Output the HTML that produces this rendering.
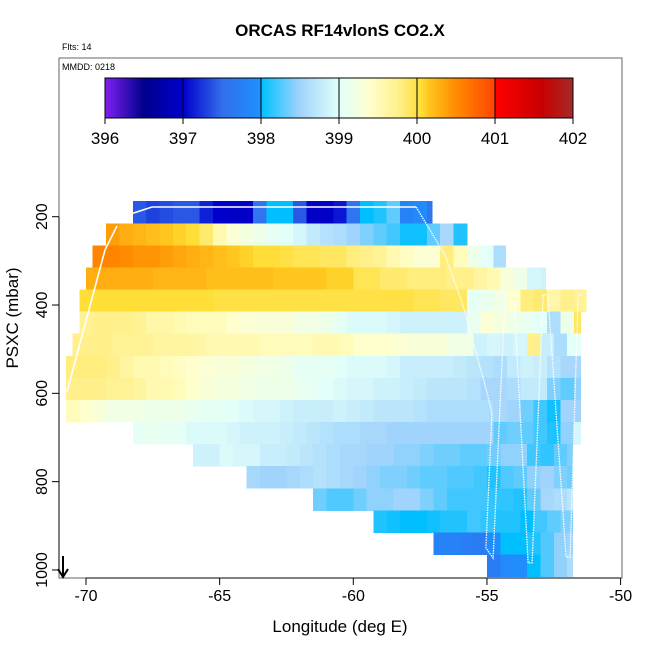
<!DOCTYPE html>
<html><head><meta charset="utf-8"><style>
html,body{margin:0;padding:0;background:#fff;}
svg{display:block;font-family:"Liberation Sans",Arial,sans-serif;}
</style></head><body>
<svg id="chart" width="650" height="650" viewBox="0 0 650 650" xmlns="http://www.w3.org/2000/svg">
<text x="340" y="36" text-anchor="middle" font-size="17" font-weight="bold">ORCAS RF14vlonS CO2.X</text>
<text x="62" y="50" font-size="9">Flts: 14</text>
<g id="cells" shape-rendering="crispEdges"></g>
<g id="track"></g>
<rect x="59" y="58" width="563" height="520" fill="none" stroke="#666" stroke-width="1"/>
<text x="62" y="70" font-size="9">MMDD: 0218</text>
<g id="cbar" shape-rendering="crispEdges"></g>
<g id="axes"></g>
<text x="340" y="632" text-anchor="middle" font-size="17">Longitude (deg E)</text>
<text transform="translate(18,318) rotate(-90)" text-anchor="middle" font-size="17">PSXC (mbar)</text>
<g stroke="#000" stroke-width="2" fill="none">
<line x1="63" y1="556" x2="63" y2="576"/><polyline points="58,569 63,577 68,569"/>
</g>
</svg>
<script>
// ---- data ----
const rowStartLon = [-68.25,-69.25,-69.75,-70,-70.25,-70.25,-70.5,-70.75,-70.75,-70.75,-68.25,-66,-64,-61.5,-59.25,-57,-55];
const rowEndLon = [-57.05,-55.75,-54.3,-52.8,-51.3,-51.5,-51.5,-51.5,-51.5,-51.5,-51.5,-51.8,-51.8,-51.8,-51.8,-51.8,-51.8];
const rowTopP = [165,215,265,315,365,415,465,515,565,615,665,715,765,815,865,915,965];
const row0 = [397.4,397.3,397.35,397.4,397.4,397.15,397.0,396.95,396.95,397.6,398.0,398.0,397.4,396.95,396.95,397.1,397.6,398.0,398.1,398.3,397.8,397.9,397.6];
const row1 = [400.4,400.3,400.25,400.2,400.15,400.1,400.05,399.85,399.55,399.35,399.25,399.15,399.05,399.0,398.9,398.75,398.65,398.6,398.5,398.4,398.3,398.2,398.05,398.05,398.3,398.55,398.1];
const row2 = [400.55,400.55,400.5,400.45,400.45,400.4,400.35,400.3,400.25,400.2,400.15,400.1,400.05,400.05,400.0,399.95,399.95,399.9,399.9,399.8,399.75,399.7,399.55,399.45,399.35,399.35,399.8,399.5,399.15,399.0,398.6];
const row3 = [400.3,400.3,400.3,400.3,400.3,400.25,400.25,400.25,400.25,400.2,400.2,400.2,400.2,400.2,400.15,400.15,400.15,400.15,400.1,400.1,399.95,399.95,399.85,399.85,399.8,399.8,399.8,399.75,399.75,399.65,399.55,399.3,399.15,398.9,398.85];
const row4 = [400.05,400.05,400.05,400.05,400.05,400.05,400.05,400.05,400.05,400.05,400.0,400.0,400.0,400.0,400.0,400.0,400.0,400.0,400.0,400.0,400.0,400.0,400.0,400.0,400.0,399.95,399.95,399.9,399.9,399.05,399.1,399.2,399.4,399.8,399.85,399.6,399.75,399.7];
const row5 = [399.7,399.75,399.75,399.75,399.7,399.6,399.6,399.55,399.5,399.5,399.5,399.4,399.35,399.3,399.3,399.3,399.2,399.2,399.15,399.05,398.95,398.95,398.95,398.9,398.85,398.85,398.85,398.85,398.85,399.1,399.35,399.25,399.15,399.1,399.0,398.6,399.15,399.9];
const row6 = [399.75,399.75,399.75,399.7,399.7,399.7,399.65,399.65,399.65,399.6,399.55,399.55,399.55,399.55,399.5,399.5,399.5,399.5,399.55,399.55,399.5,399.4,399.4,399.4,399.35,399.3,399.3,399.3,399.2,399.2,398.85,398.9,398.85,398.9,399.75,398.8,398.6,399.0];
const row7 = [399.8,399.8,399.8,399.75,399.65,399.55,399.55,399.5,399.45,399.4,399.35,399.3,399.3,399.25,399.2,399.2,399.15,399.05,399.05,399.05,399.0,398.95,398.95,398.95,398.9,398.8,398.8,398.8,398.8,398.75,398.7,398.65,398.6,398.75,398.85,398.8,398.65,398.55,398.55];
const row8 = [399.75,399.75,399.75,399.7,399.7,399.65,399.55,399.55,399.5,399.4,399.3,399.25,399.25,399.2,399.15,399.15,399.15,399.1,399.05,399.0,398.95,398.9,398.9,398.85,398.85,398.8,398.75,398.7,398.7,398.7,398.65,398.55,398.55,398.6,398.75,398.75,398.4,398.3,398.45];
const row9 = [399.5,399.4,399.3,399.2,399.2,399.2,399.15,399.15,399.15,399.1,399.05,399.05,399.0,398.95,398.9,398.9,398.85,398.8,398.8,398.8,398.85,398.8,398.75,398.7,398.7,398.7,398.65,398.6,398.6,398.6,398.6,398.6,398.55,398.5,398.35,398.2,398.05,398.5,398.5];
const row10 = [399.05,399.1,399.05,399.05,398.95,398.95,398.95,398.9,398.85,398.85,398.85,398.8,398.75,398.7,398.65,398.6,398.6,398.55,398.55,398.5,398.5,398.5,398.5,398.5,398.5,398.5,398.5,398.3,398.35,398.3,398.2,398.1,398.45,398.9];
const row11 = [398.85,398.85,398.95,398.9,398.9,398.8,398.8,398.75,398.7,398.65,398.6,398.55,398.55,398.5,398.5,398.45,398.45,398.4,398.35,398.35,398.3,398.3,398.35,398.45,398.45,398.2,398.15,398.3,398.4];
const row12 = [398.55,398.5,398.5,398.55,398.6,398.65,398.6,398.55,398.5,398.45,398.4,398.4,398.35,398.3,398.3,398.25,398.25,398.2,398.1,398.25,398.3,398.45,398.5,398.4,398.35];
const row13 = [398.35,398.25,398.25,398.35,398.45,398.45,398.5,398.5,398.4,398.3,398.2,398.2,398.2,398.15,398.15,398.1,398.3,398.55,398.6,398.7];
const row14 = [398.1,398.05,398.0,398.0,398.05,398.1,398.1,398.2,398.15,398.1,398.1,398.0,398.2,398.3,398.4];
const row15 = [397.8,397.8,397.75,397.7,397.95,398.0,398.0,398.1,398.25,398.45,398.5];
const row16 = [397.7,397.9,397.95,398.0,398.25,398.45,398.6];
const rows = [row0,row1,row2,row3,row4,row5,row6,row7,row8,row9,row10,row11,row12,row13,row14,row15,row16];
const trackSolidLon = [-70.72,-69.29,-68.84];
const trackSolidP = [598,275,221];
const trackTopLon = [-68.24,-67.53,-57.65];
const trackTopP = [192,178,178];
const trackDotLon = [-57.65,-56.57,-55.9,-55.0,-54.81,-55.04,-54.77,-54.32,-53.99,-53.46,-53.31,-52.9,-52.72,-52.04,-51.89,-51.59,-51.44];
const trackDotP = [178,287,400,597,645,950,973,377,377,984,984,377,377,971,971,377,377];
const xTicks = [-70,-65,-60,-55,-50];
const yTicks = [200,400,600,800,1000];
const cbTicks = [396,397,398,399,400,401,402];

// ---- scales ----
const NS='http://www.w3.org/2000/svg';
function xS(lon){return 86+(lon+70)*26.73;}
function yS(p){return 216.7+(p-200)*0.4416;}
function cS(v){return 105+(v-396)*78;}
const stops=[[396,[128,32,240]],[396.5,[0,0,140]],[397,[0,0,205]],[397.5,[50,110,235]],[397.99,[30,144,255]],[398,[0,191,255]],[398.5,[160,212,252]],[399,[226,255,250]],[399.4,[255,255,205]],[399.75,[255,240,140]],[400.05,[255,222,55]],[400.15,[255,198,30]],[400.5,[255,140,0]],[400.99,[255,70,0]],[401,[255,0,0]],[401.6,[200,0,0]],[402,[165,42,42]]];
function col(v){
  if(v<=stops[0][0])return 'rgb('+stops[0][1]+')';
  for(let i=1;i<stops.length;i++){
    if(v<=stops[i][0]){
      const a=stops[i-1],b=stops[i],t=(v-a[0])/(b[0]-a[0]);
      const c=a[1].map((q,j)=>Math.round(q+(b[1][j]-q)*t));
      return 'rgb('+c.join(',')+')';
    }
  }
  return 'rgb('+stops[stops.length-1][1]+')';
}
function mk(tag,attrs,parent){const e=document.createElementNS(NS,tag);for(const k in attrs)e.setAttribute(k,attrs[k]);parent.appendChild(e);return e;}

// ---- cells ----
const gC=document.getElementById('cells');
rows.forEach((vals,i)=>{
  const y0=yS(rowTopP[i]),y1=yS(rowTopP[i]+50);
  const xe=xS(rowEndLon[i]);
  vals.forEach((v,k)=>{
    const x0=xS(rowStartLon[i]+k*0.5);
    const x1=Math.min(xS(rowStartLon[i]+(k+1)*0.5),xe);
    if(x1<=x0)return;
    const r=mk('rect',{x:x0.toFixed(2),y:y0.toFixed(2),width:(x1-x0+0.4).toFixed(2),height:(y1-y0+0.4).toFixed(2),fill:col(v)},gC);
    
    
  });
});

// ---- track ----
const gT=document.getElementById('track');
function pl(lons,ps,dash,w,name){
  const pts=lons.map((l,i)=>xS(l).toFixed(1)+','+yS(ps[i]).toFixed(1)).join(' ');
  const e=mk('polyline',{points:pts,fill:'none',stroke:'#fff','stroke-width':w,'stroke-dasharray':dash},gT);
  
  
}
pl(trackSolidLon,trackSolidP,'none','1.6','track-ascent');
pl(trackTopLon,trackTopP,'none','1.6','track-top-leg');
pl(trackDotLon,trackDotP,'1.5 1','1.3','track-profiles');

// ---- colorbar ----
const gB=document.getElementById('cbar');
const N=240;
for(let i=0;i<N;i++){
  const v0=396+6*i/N,v1=396+6*(i+1)/N;
  const r=mk('rect',{x:cS(v0).toFixed(2),y:78,width:(cS(v1)-cS(v0)+0.4).toFixed(2),height:40,fill:col((v0+v1)/2)},gB);
  
  
}
const cbBox=mk('rect',{x:105,y:78,width:468,height:40,fill:'none',stroke:'#000','stroke-width':1},gB);


cbTicks.forEach(t=>{
  const x=cS(t);
  const l=mk('line',{x1:x,x2:x,y1:78,y2:124,stroke:'#000','stroke-width':1},gB);
  
  
  const tx=mk('text',{x:x,y:144,'text-anchor':'middle','font-size':'17'},gB);
  tx.textContent=t;
  
  
});

// ---- axes ----
const gA=document.getElementById('axes');
const xl=mk('line',{x1:xS(-70),x2:xS(-50),y1:578,y2:578,stroke:'#000','stroke-width':1},gA);


xTicks.forEach(t=>{
  const x=xS(t);
  const l=mk('line',{x1:x,x2:x,y1:578,y2:585,stroke:'#000','stroke-width':1},gA);
  
  
  const tx=mk('text',{x:x,y:601,'text-anchor':'middle','font-size':'16'},gA);
  tx.textContent=t;
  
  
});
const yl=mk('line',{x1:59,x2:59,y1:yS(200),y2:yS(1000),stroke:'#000','stroke-width':1},gA);


yTicks.forEach(t=>{
  const y=yS(t);
  const l=mk('line',{x1:52,x2:59,y1:y,y2:y,stroke:'#000','stroke-width':1},gA);
  
  
  const tx=mk('text',{transform:'translate(47,'+y.toFixed(1)+') rotate(-90)','text-anchor':'middle','font-size':'16'},gA);
  tx.textContent=t;
  
  
});
</script>
</body></html>
